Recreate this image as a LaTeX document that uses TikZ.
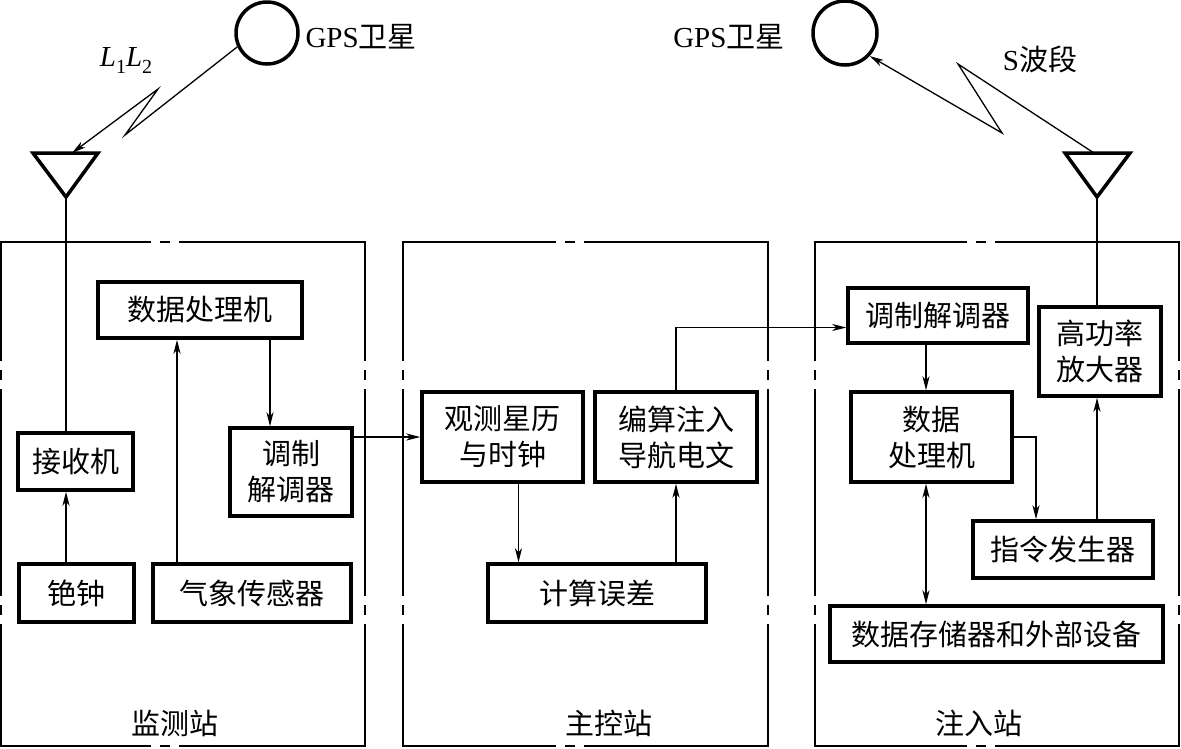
\documentclass[tikz,border=0pt]{standalone}
\usepackage{fontspec}
\setmainfont{Liberation Serif}
\newfontfamily\cjk{Noto Sans CJK SC}
\usetikzlibrary{arrows.meta, positioning}

\newcommand\lowidx[1]{\raisebox{-7pt}{\fontsize{20}{20}\selectfont #1}}

\begin{document}
\begin{tikzpicture}[x=1pt, y=-1pt,
  every node/.style={font=\fontsize{29}{36}\selectfont},
  blk/.style={draw, line width=3.5pt, inner sep=0pt, align=center,
    font=\cjk\fontsize{29}{36}\selectfont},
  lbl/.style={font=\cjk\fontsize{29}{36}\selectfont},
  wire/.style={line width=1.3pt},
  arr/.style={wire, -{Stealth[length=14pt, width=7pt, inset=4pt]}},
  arrs/.style={wire, {Stealth[length=14pt, width=7pt, inset=4pt]}-{Stealth[length=14pt, width=7pt, inset=4pt]}},
  frame/.style={line width=2pt, line cap=rect}]
\useasboundingbox (0,0) rectangle (1181,748);

% Three stations, dash-dot frames
\foreach \xa/\xb/\g in {1/365/150, 403/768/555, 815/1179/966} {
  \foreach \y in {242,746}
    \draw[frame] (\xa,\y) -- (\g,\y) (\g+11,\y) -- (\g+19,\y) (\g+30,\y) -- (\xb,\y);
  \foreach \x in {\xa,\xb}
    \draw[frame] (\x,242) -- (\x,360) (\x,371) -- (\x,379) (\x,390) -- (\x,595)
      (\x,606) -- (\x,614) (\x,625) -- (\x,746);
}

% Satellites and antennas
\node[circle, draw, line width=3.5pt, minimum size=62pt, inner sep=0pt] (sat1) at (267,33) {};
\node[circle, draw, line width=3.5pt, minimum size=64pt, inner sep=0pt] (sat2) at (845,33) {};
\node[anchor=west] (gps1) at (302,37) {GPS{\cjk 卫星}};
\node[anchor=east] (gps2) at (788,37) {GPS{\cjk 卫星}};
\node (band1) at (126,60) {\textit{L}\lowidx{1}\textit{L}\lowidx{2}};
\node (band2) at (1040,59) {S{\cjk 波段}};

\draw[line width=3.5pt, line join=miter] (33,153) -- (98,153) -- (66,197) -- cycle;
\draw[line width=3.5pt, line join=miter] (1065,153) -- (1130,153) -- (1097,197) -- cycle;
\coordinate (ant1) at (66,197);
\coordinate (ant1top) at (72,153);
\coordinate (ant2) at (1097,197);
\coordinate (ant2top) at (1094,153);

\draw[arr] (sat1.205) -- (125,135) -- (158,89) -- (ant1top);
\draw[arr] (ant2top) -- (958,64) -- (1002,133) -- (sat2.-43);

% Monitor station
\node[blk, minimum width=204pt, minimum height=56pt] (dp1) at (200,310) {数据处理机};
\node[blk, minimum width=115pt, minimum height=57pt] (rcv) at (75.5,461.5) {接收机};
\node[blk, minimum width=122pt, minimum height=88pt] (mod1) at (291,472) {调制\\解调器};
\node[blk, minimum width=115pt, minimum height=58pt] (clk) at (76.5,593) {铯钟};
\node[blk, minimum width=198pt, minimum height=58pt] (met) at (252,593) {气象传感器};

% Master control station
\node[blk, minimum width=161pt, minimum height=90pt] (obs) at (502.5,437) {观测星历\\与时钟};
\node[blk, minimum width=162pt, minimum height=90pt] (nav) at (676,437) {编算注入\\导航电文};
\node[blk, minimum width=218pt, minimum height=58pt] (err) at (597,593) {计算误差};

% Upload station
\node[blk, minimum width=180pt, minimum height=55pt] (mod2) at (938,315.5) {调制解调器};
\node[blk, minimum width=122pt, minimum height=89pt] (amp) at (1100,351.5) {高功率\\放大器};
\node[blk, minimum width=161pt, minimum height=90pt] (dp2) at (931.5,437) {数据\\处理机};
\node[blk, minimum width=180pt, minimum height=57pt] (cmd) at (1063,549.5) {指令发生器};
\node[blk, minimum width=333pt, minimum height=56pt] (sto) at (996.5,634) {数据存储器和外部设备};

\node[lbl] (st1) at (175,723) {监测站};
\node[lbl] (st2) at (609,723) {主控站};
\node[lbl] (st3) at (979,723) {注入站};

% Connections
\draw[wire] (ant1) -- (ant1 |- rcv.north);
\draw[arr] (clk.north -| ant1) -- (rcv.south -| ant1);
\coordinate (mx) at ([xshift=-75pt]met.north);
\draw[arr] (mx) -- (mx |- dp1.south);
\coordinate (dx) at ([xshift=70pt]dp1.south);
\draw[arr] (dx) -- (dx |- mod1.north);
\draw[arr] (obs.west -| mod1.east) -- (obs.west);

\coordinate (ox) at ([xshift=16pt]obs.south);
\draw[arr] (ox) -- (ox |- err.north);
\draw[arr] (err.north -| nav.south) -- (nav.south);
\draw[arr] (nav.north) |- ([yshift=-12pt]mod2.west);

\coordinate (bx) at ([xshift=-12pt]mod2.south);
\draw[arr] (bx) -- (bx |- dp2.north);
\draw[arr] (dp2.east) -| ([xshift=-27pt]cmd.north);
\draw[arr] (cmd.north -| ant2) -- (amp.south -| ant2);
\draw[arrs] (bx |- dp2.south) -- (bx |- sto.north);
\draw[wire] (ant2) -- (ant2 |- amp.north);

\end{tikzpicture}
\end{document}
